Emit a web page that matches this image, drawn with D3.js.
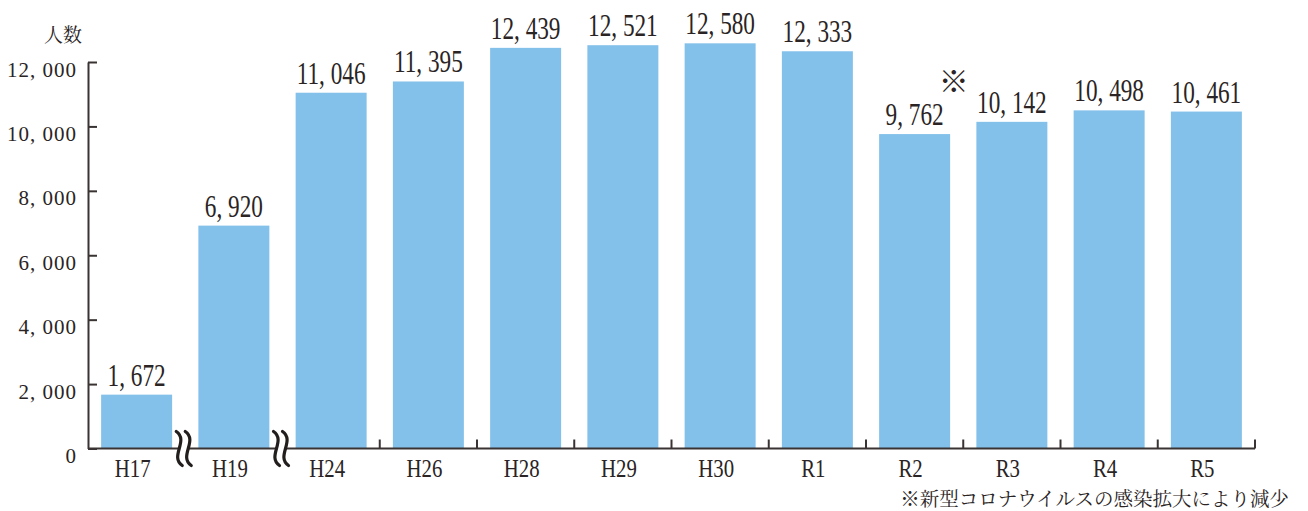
<!DOCTYPE html>
<html lang="ja">
<head>
<meta charset="utf-8">
<script src="https://cdn.jsdelivr.net/npm/d3@7"></script>
<style>
  html, body { margin: 0; padding: 0; background: #fff; }
  svg { display: block; }
</style>
</head>
<body>
<svg id="chart" width="1308" height="511"></svg>
<script>
// 年度ごとの人数
const categories = ["H17", "H19", "H24", "H26", "H28", "H29", "H30", "R1", "R2", "R3", "R4", "R5"];
const counts = [1672, 6920, 11046, 11395, 12439, 12521, 12580, 12333, 9762, 10142, 10498, 10461];
const yTicks = [0, 2000, 4000, 6000, 8000, 10000, 12000];
// 軸の途中を省略している区切り（この項目の直後）
const breaksAfter = ["H17", "H19"];
const markedCategory = "R2";
const yTitle = "人数";
const note = "※新型コロナウイルスの感染拡大により減少";

const svg = d3.select("#chart");
const axisColor = "#3a3333";
const textColor = "#2a2424";
const barColor = "#83c0ea";
const serifFont = "'Liberation Serif', 'DejaVu Serif', serif";
const jpFont = "'Noto Serif CJK JP', 'Noto Sans CJK JP', serif";

const x = d3.scaleBand()
  .domain(categories)
  .range([88, 1255])
  .paddingInner(0.27)
  .paddingOuter(0.135);

const y = d3.scaleLinear()
  .domain([0, 12000])
  .range([448.5, 62]);

const fmt = v => d3.format(",")(v).replace(",", ", ");

// 棒
svg.append("g")
  .selectAll("rect")
  .data(categories)
  .join("rect")
  .attr("x", d => x(d))
  .attr("y", (d, i) => y(counts[i]))
  .attr("width", x.bandwidth())
  .attr("height", (d, i) => y(0) - y(counts[i]))
  .attr("fill", barColor);

// 縦軸
const yAxis = d3.axisLeft(y)
  .tickValues(yTicks)
  .tickSizeInner(-9)
  .tickSizeOuter(0)
  .tickPadding(11)
  .tickFormat(fmt);

const yg = svg.append("g")
  .attr("transform", `translate(${x.range()[0]},0)`)
  .call(yAxis);
yg.attr("font-family", null).attr("font-size", null);
yg.select(".domain").attr("stroke", axisColor).attr("stroke-width", 2);
yg.selectAll(".tick line").attr("stroke", axisColor).attr("stroke-width", 2);
yg.selectAll(".tick text")
  .style("font-family", serifFont)
  .style("font-size", "21px")
  .attr("letter-spacing", 1)
  .attr("dy", 14)
  .attr("fill", textColor);

// 横軸の線
const step = x.step();
const gapHalf = (step - x.bandwidth()) / 2;
svg.append("line")
  .attr("x1", x.range()[0])
  .attr("x2", x.range()[1])
  .attr("y1", y(0))
  .attr("y2", y(0))
  .attr("stroke", axisColor)
  .attr("stroke-width", 2);

// 項目の境界の目盛（省略箇所を除く）
const boundaries = categories.slice(1)
  .map((c, i) => ({ after: categories[i], pos: x(c) - gapHalf }))
  .filter(b => !breaksAfter.includes(b.after))
  .map(b => b.pos)
  .concat([x.range()[1]]);

svg.append("g")
  .selectAll("line")
  .data(boundaries)
  .join("line")
  .attr("x1", d => d)
  .attr("x2", d => d)
  .attr("y1", y(0))
  .attr("y2", y(0) - 9)
  .attr("stroke", axisColor)
  .attr("stroke-width", 2);

// 省略記号（波線）
const breakG = svg.append("g");
breaksAfter.forEach(c => {
  const cx = x(c) + x.bandwidth() + gapHalf - 1.5;
  const cy = y(0);
  breakG.append("rect")
    .attr("x", cx - 5).attr("y", cy - 3)
    .attr("width", 10).attr("height", 6)
    .attr("fill", "#fff");
  [-4.5, 4.5].forEach(off => {
    const sx = cx + off;
    breakG.append("path")
      .attr("d", `M${sx - 3},${cy - 17} C${sx + 10},${cy - 8} ${sx - 10},${cy + 8} ${sx + 3},${cy + 17}`)
      .attr("fill", "none")
      .attr("stroke", "#231e1e")
      .attr("stroke-width", 3.2)
      .attr("stroke-linecap", "round");
  });
});

// 横軸のラベル
svg.append("g")
  .selectAll("text")
  .data(categories)
  .join("text")
  .style("font-family", serifFont)
  .style("font-size", "26px")
  .attr("fill", textColor)
  .attr("text-anchor", "middle")
  .attr("transform", d => `translate(${x(d) + x.bandwidth() / 2 - 4},477) scale(0.8,1)`)
  .text(d => d);

// 値ラベル
svg.append("g")
  .selectAll("text")
  .data(categories)
  .join("text")
  .style("font-family", serifFont)
  .style("font-size", "31px")
  .attr("fill", textColor)
  .attr("text-anchor", "middle")
  .attr("transform", (d, i) => `translate(${x(d) + x.bandwidth() / 2},${y(counts[i]) - 9}) scale(0.75,1)`)
  .text((d, i) => fmt(counts[i]));

// 注記の印
const mi = categories.indexOf(markedCategory);
svg.append("text")
  .style("font-family", jpFont)
  .style("font-size", "30px")
  .attr("fill", textColor)
  .attr("text-anchor", "middle")
  .attr("dominant-baseline", "central")
  .attr("x", x(markedCategory) + x.bandwidth() * 1.05)
  .attr("y", y(counts[mi]) - 55)
  .text("※");

// 縦軸の見出し
svg.append("text")
  .style("font-family", jpFont)
  .style("font-size", "19px")
  .attr("fill", textColor)
  .attr("text-anchor", "middle")
  .attr("x", 63)
  .attr("y", 42)
  .text(yTitle);

// 注記
svg.append("text")
  .style("font-family", jpFont)
  .style("font-size", "19.5px")
  .attr("fill", textColor)
  .attr("text-anchor", "end")
  .attr("x", 1289)
  .attr("y", 506)
  .text(note);
</script>
</body>
</html>
